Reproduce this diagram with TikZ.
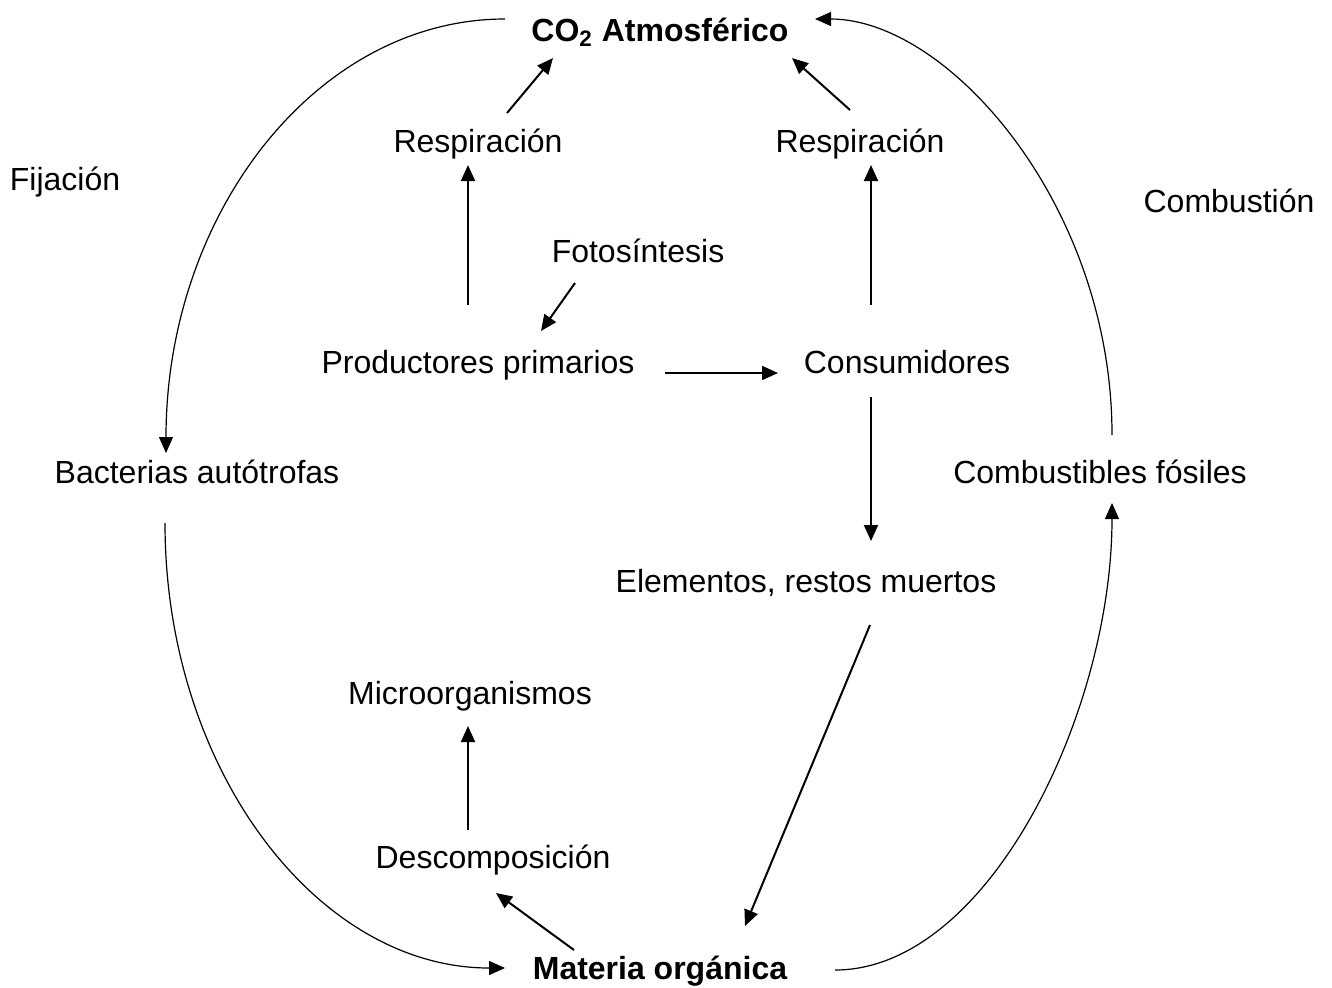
\documentclass[tikz,border=0pt]{standalone}
\usepackage{fontspec}
\setmainfont{Liberation Sans}
\usetikzlibrary{arrows.meta}

\begin{document}
\begin{tikzpicture}[
    x=0.5pt, y=-0.5pt,
    txt/.style={anchor=base, inner sep=0pt, font=\fontsize{16}{19}\selectfont},
    bold/.style={txt, font=\fontsize{16}{19}\selectfont\bfseries},
    flow/.style={-{Triangle[length=8pt,width=7pt]}, line width=1pt},
    bigcurve/.style={-{Triangle[length=8pt,width=7pt]}, line width=0.6pt}
]
\useasboundingbox (0,0) rectangle (1332,987);

% Nodes
\node[bold] (co2) at (660,41) {CO\textsubscript{2} Atmosférico};
\node[txt] (respL) at (478,152) {Respiración};
\node[txt] (respR) at (860,152) {Respiración};
\node[txt] (fij) at (65,190) {Fijación};
\node[txt] (comb) at (1229,212) {Combustión};
\node[txt] (foto) at (638,262) {Fotosíntesis};
\node[txt] (prod) at (478,373) {Productores primarios};
\node[txt] (cons) at (907,373) {Consumidores};
\node[txt] (bact) at (197,483) {Bacterias autótrofas};
\node[txt] (fosil) at (1100,483) {Combustibles fósiles};
\node[txt] (elem) at (806,592) {Elementos, restos muertos};
\node[txt] (micro) at (470,704) {Microorganismos};
\node[txt] (desc) at (493,868) {Descomposición};
\node[bold] (mat) at (660,979) {Materia orgánica};

% Edges
\draw[flow] ([shift={(29,-39)}]respL.base) -- ([shift={(-107,17)}]co2.base);
\draw[flow] ([shift={(-10,-68)}]prod.base) -- ([shift={(-10,13)}]respL.base);
\draw[flow] ([shift={(-63,21)}]foto.base) -- ([shift={(63,-42)}]prod.base);
\draw[flow] ([shift={(187,0)}]prod.base) -- ([shift={(-129,0)}]cons.base);
\draw[flow] ([shift={(-36,-68)}]cons.base) -- ([shift={(11,13)}]respR.base);
\draw[flow] ([shift={(-10,-42)}]respR.base) -- ([shift={(132,17)}]co2.base);
\draw[flow] ([shift={(-36,24)}]cons.base) -- ([shift={(65,-51)}]elem.base);
\draw[flow] ([shift={(64,33)}]elem.base) -- ([shift={(85,-53)}]mat.base);
\draw[flow] ([shift={(-86,-29)}]mat.base) -- ([shift={(3,25)}]desc.base);
\draw[flow] ([shift={(-25,-38)}]desc.base) -- ([shift={(-2,22)}]micro.base);

% Outer cycle
\draw[bigcurve] ([shift={(-155,-22)}]co2.base) .. controls +(-188,0) and +(0,-240) .. ([shift={(-31,-30)}]bact.base);
\draw[bigcurve] ([shift={(-32,40)}]bact.base) .. controls +(0,246) and +(-188,0) .. ([shift={(-155,-11)}]mat.base);
\draw[bigcurve] ([shift={(175,-9)}]mat.base) .. controls +(153,0) and +(0,210) .. ([shift={(12,20)}]fosil.base);
\draw[bigcurve] ([shift={(12,-48)}]fosil.base) .. controls +(0,-230) and +(133,0) .. ([shift={(155,-22)}]co2.base);

\end{tikzpicture}
\end{document}
